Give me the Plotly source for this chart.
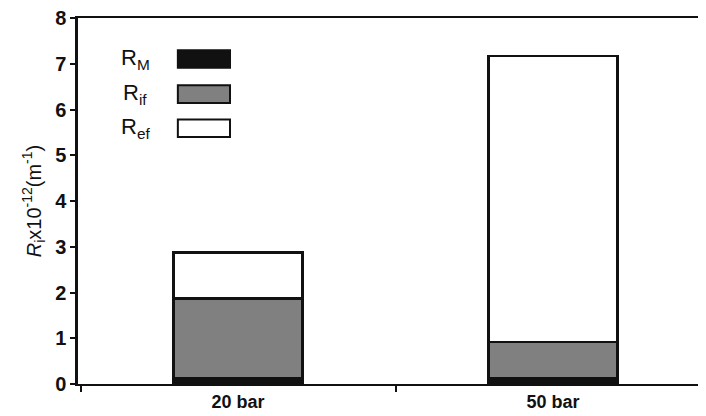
import plotly.graph_objects as go

categories = ["20 bar", "50 bar"]
r_m = [0.13, 0.13]
r_if = [1.74, 0.79]
r_ef = [1.00, 6.25]
series_names = ["R<sub>M</sub>", "R<sub>if</sub>", "R<sub>ef</sub>"]
series_colors = ["#111111", "#808080", "#ffffff"]
y_ticks = [0, 1, 2, 3, 4, 5, 6, 7, 8]

FONT = "Liberation Sans, Arial, sans-serif"

fig = go.Figure()
for name, vals, col in zip(series_names, [r_m, r_if, r_ef], series_colors):
    fig.add_trace(go.Bar(
        x=categories, y=vals, name=name, width=0.41,
        marker=dict(color=col, line=dict(color="#111111", width=2.5)),
        showlegend=False,
    ))

# custom legend (text left, wide swatch right)
leg_y = [0.888, 0.792, 0.699]
for name, col, yy in zip(series_names, series_colors, leg_y):
    fig.add_shape(type="rect", xref="paper", yref="paper",
                  x0=0.157, x1=0.239, y0=yy - 0.024, y1=yy + 0.024,
                  fillcolor=col, line=dict(color="#111111", width=2))
    fig.add_annotation(xref="paper", yref="paper", x=0.09, y=yy,
                       text=name, showarrow=False, xanchor="center", yanchor="middle",
                       font=dict(family=FONT, size=22, color="#111111"))

fig.update_layout(
    width=706, height=416,
    margin=dict(l=70, r=0, t=10, b=40),
    paper_bgcolor="white", plot_bgcolor="white",
    barmode="stack",
    font=dict(family=FONT, color="#111111"),
)
fig.update_xaxes(
    range=[-0.508, 1.511], showline=True, linecolor="#111111", linewidth=1.8,
    mirror=True, ticks="outside", tickson="boundaries", ticklen=6, tickwidth=2,
    tickcolor="#111111", showgrid=False,
    tickfont=dict(family=FONT, size=18, weight="bold", color="#111111"),
)
fig.update_yaxes(
    range=[0, 8], tickvals=y_ticks, showline=True, linecolor="#111111", linewidth=2.5,
    ticks="outside", ticklen=5, tickwidth=2, tickcolor="#111111", showgrid=False,
    zeroline=False, ticklabeloverflow="allow",
    tickfont=dict(family=FONT, size=20, weight="bold", color="#111111"),
    title=dict(text="<i>R</i><sub>i</sub>x10<sup>-12</sup>(m<sup>-1</sup>)",
               font=dict(family=FONT, size=20, color="#111111"), standoff=9),
)

fig.write_html("out.html")
